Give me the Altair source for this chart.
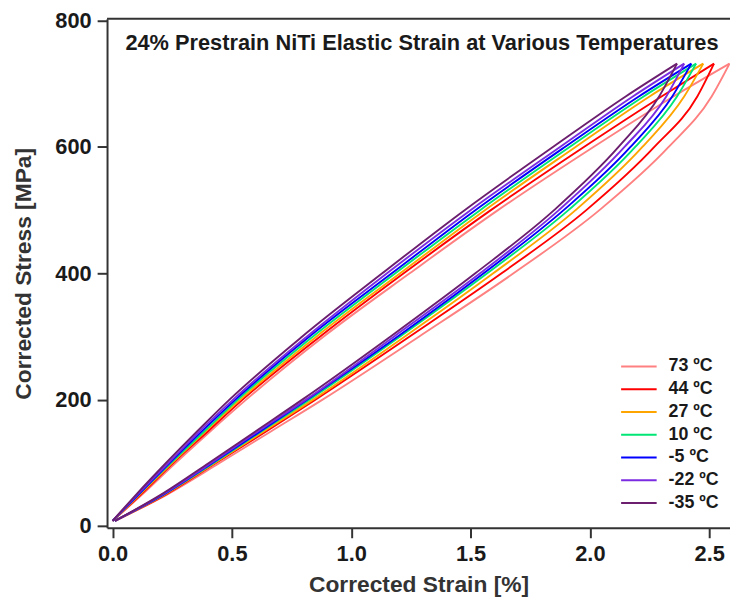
import altair as alt
import pandas as pd

temps = ["73 ºC", "44 ºC", "27 ºC", "10 ºC", "-5 ºC", "-22 ºC", "-35 ºC"]
colors = ["#ff8080", "#ff0000", "#ffa500", "#00e676", "#0000ff", "#7b2ce0", "#6b1f6e"]

# stress levels (MPa) shared by every branch
stress = [8, 50, 100, 150, 200, 300, 400, 500, 600, 680, 732]

# unloading (upper) branch strains [%] per temperature
upper = {
    "73 ºC":  [0.00, 0.125, 0.265, 0.41, 0.56, 0.885, 1.245, 1.615, 2.015, 2.35, 2.585],
    "44 ºC":  [0.00, 0.12, 0.255, 0.40, 0.545, 0.87, 1.22, 1.585, 1.975, 2.30, 2.52],
    "27 ºC":  [0.00, 0.115, 0.25, 0.39, 0.535, 0.855, 1.205, 1.56, 1.94, 2.25, 2.475],
    "10 ºC":  [0.00, 0.11, 0.245, 0.385, 0.525, 0.84, 1.185, 1.54, 1.915, 2.225, 2.445],
    "-5 ºC":  [0.00, 0.11, 0.24, 0.375, 0.515, 0.825, 1.17, 1.52, 1.895, 2.205, 2.425],
    "-22 ºC": [0.00, 0.105, 0.235, 0.365, 0.505, 0.815, 1.15, 1.50, 1.875, 2.18, 2.395],
    "-35 ºC": [0.00, 0.10, 0.225, 0.355, 0.49, 0.795, 1.13, 1.475, 1.845, 2.15, 2.365],
}
# loading (lower) branch strains [%] per temperature
lower = {
    "73 ºC":  [0.01, 0.23, 0.45, 0.665, 0.88, 1.285, 1.68, 2.04, 2.33, 2.51, 2.585],
    "44 ºC":  [0.01, 0.225, 0.435, 0.645, 0.85, 1.245, 1.63, 1.985, 2.27, 2.45, 2.52],
    "27 ºC":  [0.01, 0.22, 0.43, 0.635, 0.84, 1.225, 1.595, 1.94, 2.22, 2.395, 2.475],
    "10 ºC":  [0.01, 0.215, 0.425, 0.625, 0.825, 1.205, 1.57, 1.91, 2.19, 2.365, 2.445],
    "-5 ºC":  [0.01, 0.215, 0.42, 0.62, 0.815, 1.195, 1.555, 1.89, 2.17, 2.345, 2.425],
    "-22 ºC": [0.01, 0.21, 0.415, 0.61, 0.81, 1.18, 1.54, 1.87, 2.145, 2.32, 2.395],
    "-35 ºC": [0.01, 0.205, 0.405, 0.60, 0.795, 1.165, 1.52, 1.85, 2.12, 2.29, 2.365],
}

x_ticks = [0.0, 0.5, 1.0, 1.5, 2.0, 2.5]
y_ticks = [0, 200, 400, 600, 800]
title_text = "24% Prestrain NiTi Elastic Strain at Various Temperatures"

rows = []
for t in temps:
    for branch, table in (("upper", upper), ("lower", lower)):
        for s, e in zip(stress, table[t]):
            rows.append({"temp": t, "branch": branch, "strain": e, "stress": s})
df = pd.DataFrame(rows)

W, H = 629, 514
FONT = "Liberation Sans"

x = alt.X("strain:Q", scale=alt.Scale(domain=[-0.023, 2.587], nice=False, zero=False),
          axis=alt.Axis(values=x_ticks, format=".1f", title="Corrected Strain [%]", grid=False))
y = alt.Y("stress:Q", scale=alt.Scale(domain=[-3, 803], nice=False, zero=False),
          axis=alt.Axis(values=y_ticks, title="Corrected Stress [MPa]", grid=False))

lines = alt.Chart(df).mark_line(strokeWidth=1.9, interpolate="monotone", clip=True).encode(
    x=x, y=y,
    color=alt.Color("temp:N", scale=alt.Scale(domain=temps, range=colors),
                    legend=alt.Legend(title=None, orient="none", legendX=523, legendY=337,
                                      symbolType="M-1.38,0H1.38", symbolSize=676, symbolStrokeWidth=2,
                                      labelFont=FONT, labelFontSize=18, labelFontWeight="bold",
                                      labelColor="#1a1a1a", labelOffset=16, rowPadding=0)),
    detail="branch:N",
    order="stress:Q",
)

top_line = alt.Chart(pd.DataFrame({"v": [0]})).mark_rule(color="#333333", strokeWidth=2).encode(
    x=alt.value(0), x2=alt.value(W), y=alt.value(0)
)

title = alt.Chart(pd.DataFrame({"t": [title_text]})).mark_text(
    font=FONT, fontSize=22, fontWeight="bold", color="#1a1a1a", align="center", baseline="middle"
).encode(text="t:N", x=alt.value(318), y=alt.value(25))

chart = alt.layer(lines, top_line, title).properties(
    width=W, height=H, autosize="none",
    padding={"left": 100, "top": 8, "right": 0, "bottom": 70},
).configure_view(stroke=None).configure_axis(
    domainColor="#333333", domainWidth=2, tickColor="#333333", tickWidth=2, tickSize=10,
    labelFont=FONT, labelFontSize=22, labelFontWeight="bold", labelColor="#1a1a1a", labelPadding=6,
    titleFont=FONT, titleFontSize=23, titleFontWeight="bold", titleColor="#333333",
).configure_axisY(titlePadding=20).configure_axisX(titlePadding=9)

chart.save("out.html", embed_options={"renderer": "svg", "actions": False})
